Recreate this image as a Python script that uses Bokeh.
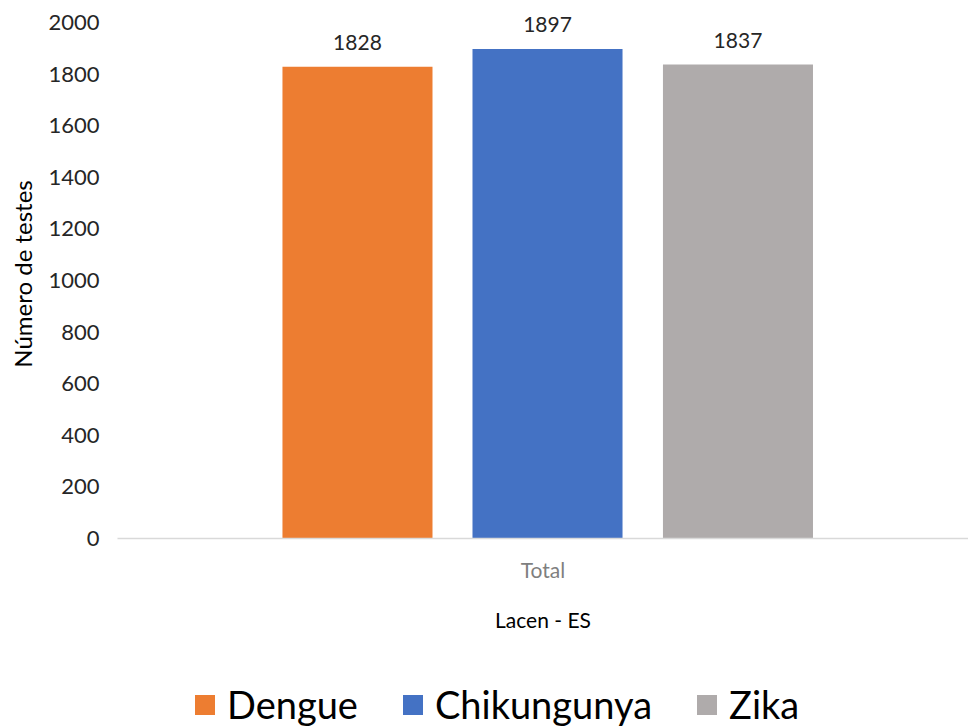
from bokeh.plotting import figure
from bokeh.layouts import column
from bokeh.models import (FactorRange, Range1d, ColumnDataSource, LabelSet, Legend,
                          LegendItem, FixedTicker)
from bokeh.core.properties import value
from bokeh.transform import dodge
from bokeh.embed import file_html
from bokeh.resources import INLINE

categories = ["Total"]
series = ["Dengue", "Chikungunya", "Zika"]
values = [1828, 1897, 1837]
colors = ["#ED7D31", "#4472C4", "#AFABAB"]
y_ticks = [0, 200, 400, 600, 800, 1000, 1200, 1400, 1600, 1800, 2000]
x_title = "Lacen - ES"
y_title = "Número de testes"

FONT = "Lato"
offsets = [-0.218, 0.0053, 0.2291]
bar_w = 0.1763

p = figure(x_range=FactorRange(factors=categories), y_range=Range1d(0, 2050),
           frame_width=851, frame_height=529, output_backend="svg", toolbar_location=None,
           min_border_left=117, min_border_right=0, min_border_top=9,
           min_border_bottom=100)
p.outline_line_color = None
p.xgrid.visible = False
p.ygrid.visible = False
p.background_fill_color = "white"
p.border_fill_color = "white"

for name, val, col, off in zip(series, values, colors, offsets):
    src = ColumnDataSource(dict(cat=categories, value=[val], label=[str(val)]))
    p.vbar(x=dodge("cat", off, range=p.x_range), top="value", width=bar_w,
           source=src, fill_color=col, line_color=None)
    lbl = LabelSet(x=dodge("cat", off, range=p.x_range), y="value", text="label",
                   source=src, text_align="center", text_baseline="middle",
                   y_offset=24, text_font=value(FONT), text_font_size="21px",
                   text_color="#262626")
    p.add_layout(lbl)

# y axis
p.yaxis.ticker = FixedTicker(ticks=y_ticks)
p.yaxis.axis_line_color = None
p.yaxis.major_tick_line_color = None
p.yaxis.minor_tick_line_color = None
p.yaxis.major_label_standoff = 12
p.yaxis.major_label_text_font = FONT
p.yaxis.major_label_text_font_size = "22px"
p.yaxis.major_label_text_color = "#262626"
p.yaxis.axis_label = y_title
p.yaxis.axis_label_text_font = FONT
p.yaxis.axis_label_text_font_size = "24px"
p.yaxis.axis_label_text_font_style = "normal"
p.yaxis.axis_label_text_color = "#000000"
p.yaxis.axis_label_standoff = 8

# x axis
p.xaxis.axis_line_color = "#D9D9D9"
p.xaxis.axis_line_width = 1.5
p.xaxis.major_tick_line_color = None
p.xaxis.minor_tick_line_color = None
p.xaxis.major_label_standoff = 12
p.xaxis.major_label_text_font = FONT
p.xaxis.major_label_text_font_size = "21px"
p.xaxis.major_label_text_color = "#7F7F7F"
p.xaxis.axis_label = x_title
p.xaxis.axis_label_text_font = FONT
p.xaxis.axis_label_text_font_size = "21px"
p.xaxis.axis_label_text_font_style = "normal"
p.xaxis.axis_label_text_color = "#000000"
p.xaxis.axis_label_standoff = 22

# legend strip (separate figure so the legend is not clipped by the chart frame)
p2 = figure(width=968, height=89, x_range=Range1d(0, 1), y_range=Range1d(0, 1),
            output_backend="svg", toolbar_location=None,
            x_axis_location=None, y_axis_location=None,
            min_border_left=0, min_border_right=0, min_border_top=0, min_border_bottom=0)
p2.outline_line_color = None
p2.xgrid.visible = False
p2.ygrid.visible = False
items = []
for name, col in zip(series, colors):
    # swatch-only renderer placed outside the visible range
    r = p2.vbar(x=[-5], top=[-5], width=0.1, fill_color=col, line_color=None)
    items.append(LegendItem(label=name, renderers=[r]))
legend = Legend(items=items, orientation="horizontal", location=(75, 0),
                glyph_width=25, glyph_height=25, label_standoff=10, spacing=42,
                label_text_font=FONT, label_text_font_size="38px",
                label_text_color="#000000", border_line_color=None,
                background_fill_alpha=0, padding=0, margin=0)
p2.add_layout(legend, "center")

layout = column(p, p2, spacing=0)
open("out.html", "w").write(file_html(layout, INLINE))
